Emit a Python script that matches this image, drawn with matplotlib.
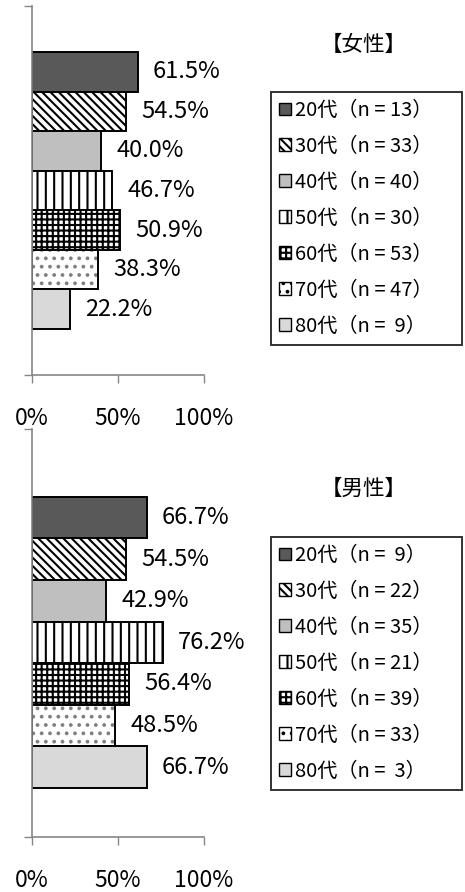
import matplotlib.pyplot as plt
import matplotlib as mpl
from matplotlib.patches import Patch

mpl.rcParams["font.family"] = ["Noto Sans CJK JP", "DejaVu Sans"]
mpl.rcParams["hatch.linewidth"] = 1.5

# データ
ages = ["20代", "30代", "40代", "50代", "60代", "70代", "80代"]
female_pct = [61.5, 54.5, 40.0, 46.7, 50.9, 38.3, 22.2]
female_n = [13, 33, 40, 30, 53, 47, 9]
male_pct = [66.7, 54.5, 42.9, 76.2, 56.4, 48.5, 66.7]
male_n = [9, 22, 35, 21, 39, 33, 3]
x_ticks = [0, 50, 100]
x_ticklabels = ["0%", "50%", "100%"]

# 系列ごとの塗り
fills = ["#595959", "white", "#bfbfbf", "white", "white", "white", "#d9d9d9"]
hatches = [None, "\\\\\\\\", None, "||", "+++", "..", None]
hatch_colors = ["black", "black", "black", "black", "black", "#7f7f7f", "black"]

fig = plt.figure(figsize=(4.65, 8.92), dpi=100)
W, H = 465, 892
axis_grey = "#868686"


def panel(rect, pct, n, title, ylim, title_y, legend_top):
    ax = fig.add_axes(rect)
    ys = [6 - i for i in range(len(ages))]
    for y, v, fc, h, hc in zip(ys, pct, fills, hatches, hatch_colors):
        # 模様のみ
        ax.barh(y, v, height=1.0, color=fc, hatch=h, edgecolor=hc, linewidth=0)
        # 枠線
        ax.barh(y, v, height=1.0, fill=False, edgecolor="black", linewidth=1.4)
        ax.annotate(f"{v:.1f}%", (v, y), xytext=(11, 0), textcoords="offset points",
                    ha="left", va="center", fontsize=17)
    ax.set_xlim(0, 100)
    ax.set_ylim(*ylim)
    ax.set_xticks(x_ticks)
    ax.set_xticklabels(x_ticklabels, fontsize=16.5)
    ax.set_yticks(ylim)
    ax.set_yticklabels([])
    ax.tick_params(axis="x", direction="out", length=6, width=1, color=axis_grey, pad=17)
    ax.tick_params(axis="y", direction="out", length=6, width=1, color=axis_grey)
    for s in ["top", "right"]:
        ax.spines[s].set_visible(False)
    for s in ["left", "bottom"]:
        ax.spines[s].set_color(axis_grey)
        ax.spines[s].set_linewidth(1.2)
    ax.patch.set_alpha(0)

    fig.text(364 / W, 1 - title_y / H, title, ha="center", va="center", fontsize=15.5)

    handles = [Patch(facecolor=fc, hatch=h, edgecolor="black", linewidth=1.0)
               for fc, h in zip(fills, hatches)]
    labels = [f"{a}（n = {k}）" if k >= 10 else f"{a}（n =  {k}）"
              for a, k in zip(ages, n)]
    leg = fig.legend(handles, labels, loc="upper left", mode="expand",
                     bbox_to_anchor=(271 / W, 1 - legend_top / H, 191 / W, 0),
                     bbox_transform=fig.transFigure,
                     fontsize=14.5, frameon=True, fancybox=False, borderaxespad=0,
                     handlelength=0.6, handleheight=0.6, handletextpad=0.2,
                     labelspacing=0.74, borderpad=0.4)
    leg.get_frame().set_edgecolor("black")
    leg.get_frame().set_linewidth(1.4)
    return ax


# 女性
panel([32 / W, 1 - 375 / H, 172 / W, 369 / H], female_pct, female_n, "【女性】",
      (-1.66, 7.66), 45, 92)
# 男性
panel([32 / W, 1 - 837 / H, 172 / W, 408 / H], male_pct, male_n, "【男性】",
      (-1.68, 8.13), 489, 537)

fig.savefig("out.png", dpi=100)
